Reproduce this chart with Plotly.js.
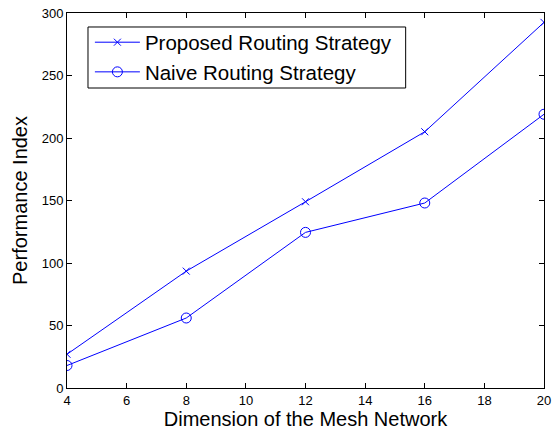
<!DOCTYPE html>
<html>
<head>
<meta charset="utf-8">
<script src="https://cdn.plot.ly/plotly-3.0.1.min.js"></script>
<style>html,body{margin:0;padding:0;background:#fff;}#chart{width:553px;height:436px;}</style>
</head>
<body>
<div id="chart"></div>
<script>
const dims = [4, 8, 12, 16, 20];
const proposed = [27, 93.5, 149, 205, 292.5];
const naive = [18, 56, 124.5, 148, 219];
const seriesNames = ["Proposed Routing Strategy", "Naive Routing Strategy"];

const traces = [
  {x: dims, y: proposed, name: seriesNames[0], type: 'scatter', mode: 'lines+markers',
   line: {color: '#0000ff', width: 1}, marker: {symbol: 'x-thin-open', size: 7, color: '#0000ff', line: {color: '#0000ff', width: 1}}},
  {x: dims, y: naive, name: seriesNames[1], type: 'scatter', mode: 'lines+markers',
   line: {color: '#0000ff', width: 1}, marker: {symbol: 'circle-open', size: 10, color: '#0000ff', line: {color: '#0000ff', width: 1}}}
];

const axisCommon = {showline: true, linecolor: '#000', linewidth: 1, mirror: 'ticks', ticks: 'inside', ticklen: 5, tickcolor: '#000', tickwidth: 1, showgrid: false, zeroline: false, tickfont: {size: 13, color: '#000'}};

const layout = {
  width: 553, height: 436,
  margin: {l: 67, r: 9, t: 13, b: 48},
  paper_bgcolor: '#fff', plot_bgcolor: '#fff',
  font: {family: 'Liberation Sans, Arial, sans-serif', color: '#000'},
  showlegend: true,
  legend: {x: 0.048, y: 0.975, xanchor: 'left', yanchor: 'top', borderwidth: 0, bgcolor: 'rgba(0,0,0,0)', itemwidth: 45, font: {size: 20.5, color: '#000'}},
  shapes: [{type: 'rect', xref: 'paper', yref: 'paper', x0: 0.044, x1: 0.71, y0: 0.8, y1: 0.9627, line: {color: '#000', width: 1}, fillcolor: 'rgba(255,255,255,0)', layer: 'above'}],
  xaxis: Object.assign({}, axisCommon, {range: [4, 20], dtick: 2, tick0: 4, title: {text: 'Dimension of the Mesh Network', font: {size: 20}, standoff: 3}}),
  yaxis: Object.assign({}, axisCommon, {range: [0, 300], dtick: 50, tick0: 0, title: {text: 'Performance Index', font: {size: 20}, standoff: 8}})
};

Plotly.newPlot('chart', traces, layout, {displayModeBar: false, staticPlot: true});
</script>
</body>
</html>
